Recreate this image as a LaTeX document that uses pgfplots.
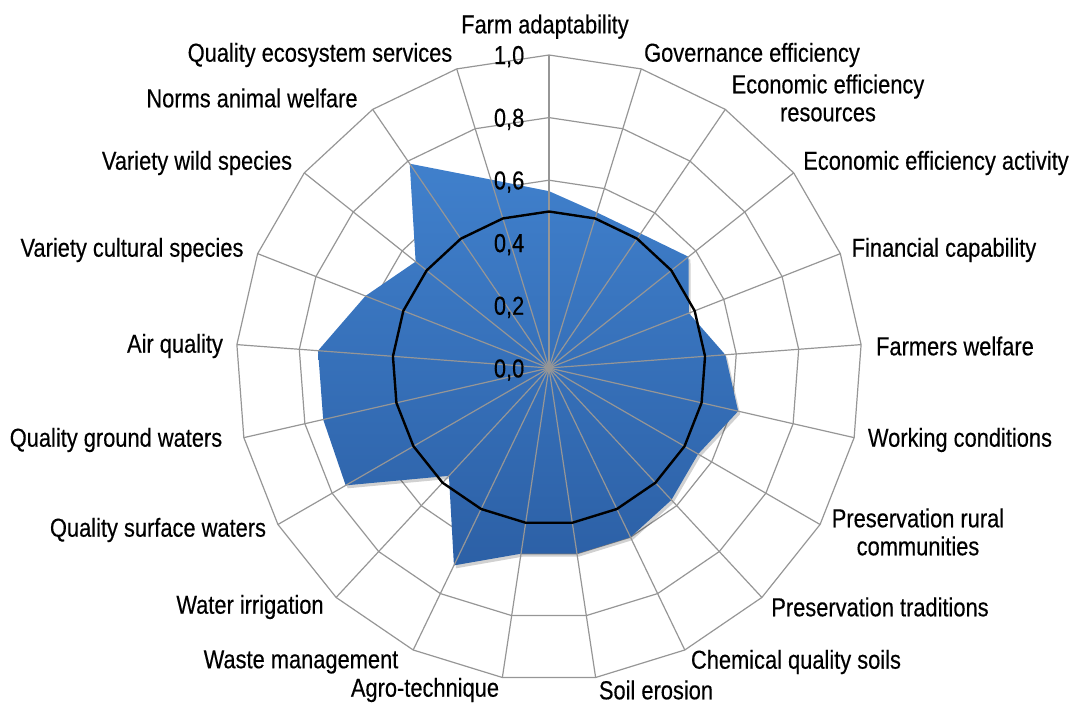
\documentclass[border=0pt]{standalone}
\usepackage{fontspec}
\setmainfont{Liberation Sans}[FakeStretch=0.84, FakeBold=0.35]
\usepackage{pgfplots}
\usepackage{pgfplotstable}
\pgfplotsset{compat=1.18}
\usepgfplotslibrary{polar}
\definecolor{gridgray}{RGB}{150,150,150}
\definecolor{bluetop}{RGB}{64,128,204}
\definecolor{bluebot}{RGB}{44,96,166}
\newcommand\lbl{\fontsize{19.5}{21}\selectfont}

% angle (pgf polar, degrees), value
\pgfplotstableread{
ang val
90 0.565
72.857 0.52
55.714 0.52
38.571 0.57
21.429 0.48
4.286 0.565
-12.857 0.62
-30 0.55
-47.143 0.575
-64.286 0.60
-81.429 0.60
-98.571 0.60
-115.714 0.70
-132.857 0.47
-150 0.75
-167.143 0.74
-184.286 0.74
-201.429 0.63
-218.571 0.545
-235.714 0.79
-252.857 0.63
-270 0.565
}\datatab

\pgfplotstableread{
ang val
90 0.5
72.857 0.5
55.714 0.5
38.571 0.5
21.429 0.5
4.286 0.5
-12.857 0.5
-30 0.5
-47.143 0.5
-64.286 0.5
-81.429 0.5
-98.571 0.5
-115.714 0.5
-132.857 0.5
-150 0.5
-167.143 0.5
-184.286 0.5
-201.429 0.5
-218.571 0.5
-235.714 0.5
-252.857 0.5
-270 0.5
}\reftab

\begin{document}
\begin{tikzpicture}
\begin{polaraxis}[
  hide axis, scale only axis, width=469.5pt, height=469.5pt,
  ymin=0, ymax=1, xmin=0, xmax=360, clip=false,
]
% rings
\pgfplotsinvokeforeach{0.2,0.4,0.6,0.8,1.0}{
  \addplot[gridgray, line width=0.9pt, no marks] table[x=ang, y expr=#1] {\reftab};
}
% shadow of data area
\addplot[draw=none, fill=black, opacity=0.18, no marks, xshift=1.5pt, yshift=-2.2pt] table[x=ang, y=val] {\datatab};
% data area
\addplot[draw=none, top color=bluetop, bottom color=bluebot, no marks] table[x=ang, y=val] {\datatab};
% spokes
\pgfplotsinvokeforeach{90,72.857,55.714,38.571,21.429,4.286,-12.857,-30,-47.143,-64.286,-81.429,-98.571,-115.714,-132.857,-150,-167.143,-184.286,-201.429,-218.571,-235.714,-252.857}{
  \draw[gridgray, line width=0.9pt] (axis cs:#1,0) -- (axis cs:#1,1);
}
% reference line
\addplot[black, line width=1.8pt, no marks, line join=round] table[x=ang, y=val] {\reftab};
\coordinate (O) at (axis cs:0,0);
\end{polaraxis}

\begin{scope}[font=\lbl]
\node[anchor=east] at ([shift={(-15pt,233.5pt)}]O) {1,0};
\node[anchor=east] at ([shift={(-15pt,186.5pt)}]O) {0,8};
\node[anchor=east] at ([shift={(-15pt,139.5pt)}]O) {0,6};
\node[anchor=east] at ([shift={(-15pt,92.5pt)}]O) {0,4};
\node[anchor=east] at ([shift={(-15pt,45.5pt)}]O) {0,2};
\node[anchor=east] at ([shift={(-15pt,-1.5pt)}]O) {0,0};

\node at ([shift={(-3pt,256pt)}]O) {Farm adaptability};
\node at ([shift={(152.25pt,234.75pt)}]O) {Governance efficiency};
\node[align=center] at ([shift={(209.25pt,202.5pt)}]O) {Economic efficiency\\resources};
\node at ([shift={(290.25pt,153.75pt)}]O) {Economic efficiency activity};
\node at ([shift={(296.25pt,88.5pt)}]O) {Financial capability};
\node at ([shift={(304.5pt,16.5pt)}]O) {Farmers welfare};
\node at ([shift={(308.25pt,-54pt)}]O) {Working conditions};
\node[align=center] at ([shift={(276.75pt,-123pt)}]O) {Preservation rural\\communities};
\node at ([shift={(248.25pt,-179.25pt)}]O) {Preservation traditions};
\node at ([shift={(185.25pt,-220.5pt)}]O) {Chemical quality soils};
\node at ([shift={(80.25pt,-241.5pt)}]O) {Soil erosion};
\node at ([shift={(-93pt,-241.5pt)}]O) {Agro-technique};
\node at ([shift={(-186pt,-220.5pt)}]O) {Waste management};
\node at ([shift={(-224.25pt,-179.25pt)}]O) {Water irrigation};
\node at ([shift={(-293.25pt,-121.5pt)}]O) {Quality surface waters};
\node at ([shift={(-324.75pt,-54pt)}]O) {Quality ground waters};
\node at ([shift={(-280.5pt,16.5pt)}]O) {Air quality};
\node at ([shift={(-312.75pt,88.5pt)}]O) {Variety cultural species};
\node at ([shift={(-264pt,153.75pt)}]O) {Variety wild species};
\node at ([shift={(-222.75pt,202.5pt)}]O) {Norms animal welfare};
\node at ([shift={(-171.75pt,234.75pt)}]O) {Quality ecosystem services};
\end{scope}

\pgfresetboundingbox
\path ([shift={(-411.75pt,-252pt)}]O) rectangle ([shift={(392.25pt,276pt)}]O);
\end{tikzpicture}
\end{document}
